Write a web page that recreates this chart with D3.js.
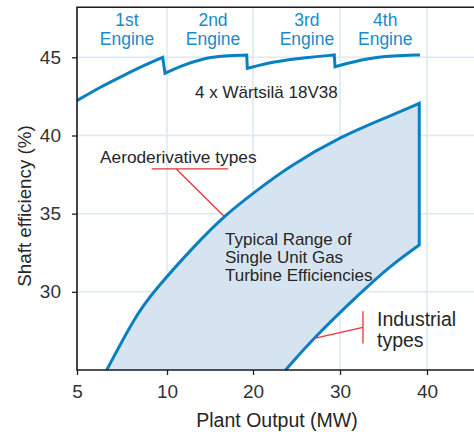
<!DOCTYPE html>
<meta charset="utf-8">
<style>
    body {
        margin: 0;
    }

    svg {
        font-family: "Liberation Sans", Arial, sans-serif;
    }

    .axis text {
        font-size: 19px;
        fill: #333;
    }

    .axis line {
        stroke: #222;
        stroke-width: 1.3;
    }

    .grid line {
        stroke: #dce8f4;
        stroke-width: 1.5;
    }

    .note {
        fill: #262626;
    }

    .lead {
        stroke: #e8343c;
        stroke-width: 1.3;
        fill: none;
    }
</style>
<body>
<script src="https://cdn.jsdelivr.net/npm/d3@7"></script>
<script>
    // ticks
    const xTicks = [5, 10, 20, 30, 40];
    const yTicks = [30, 35, 40, 45];

    // Wärtsilä engine steps, [MW, %]
    const engine1 = [[5, 42.23], [6.26, 43.08], [7.65, 43.88], [8.76, 44.5], [9.76, 45.0]];
    const engine2 = [[9.89, 43.98], [11.51, 44.42], [14.19, 44.94], [16.74, 45.1], [19.27, 45.14]];
    const engine3 = [[19.34, 44.29], [22.33, 44.72], [26.17, 45.0], [29.34, 45.15]];
    const engine4 = [[29.43, 44.4], [33.07, 44.94], [36.1, 45.1], [39.2, 45.15]];
    const engineLabels = ["1st", "2nd", "3rd", "4th"];
    const engineLabelX = [7.78, 15.35, 26.2, 35.2];

    // gas turbine range
    const aeroderivative = [[6.65, 25], [8.22, 28.41], [9.24, 30.01], [13.26, 33.0], [16.86, 34.96],
        [20.23, 36.4], [24.06, 38.0], [30, 39.92], [35.55, 41.2], [39.11, 42.06]];
    const industrial = [[23.74, 25], [26.93, 27.03], [32.49, 30.01], [35.75, 31.65], [39.11, 33.0]];

    const width = 474, height = 441;
    const plotLeft = 77, plotTop = 7.3, plotBottom = 370;

    const svg = d3.select("body").append("svg")
        .attr("width", width)
        .attr("height", height);

    // ticks are evenly spaced although 5 -> 10 is a half step
    const x = d3.scaleLinear()
        .domain([5, 10, 20, 30, 40, 50])
        .range([77, 167, 253, 340, 427, 514]);

    const y = d3.scaleLinear()
        .domain([25, 48.2])
        .range([plotBottom, plotTop]);

    // grid
    const grid = svg.append("g").attr("class", "grid");
    grid.selectAll(".v")
        .data(xTicks.slice(1))
        .enter().append("line")
        .attr("x1", d => x(d)).attr("x2", d => x(d))
        .attr("y1", plotTop).attr("y2", plotBottom);
    grid.selectAll(".h")
        .data(yTicks)
        .enter().append("line")
        .attr("x1", plotLeft).attr("x2", width)
        .attr("y1", d => y(d)).attr("y2", d => y(d));

    const line = d3.line()
        .x(d => x(d[0]))
        .y(d => y(d[1]))
        .curve(d3.curveBasis);

    // band
    const industrialRev = industrial.slice().reverse();
    const bandOutline = line(aeroderivative) + "L" + line(industrialRev).slice(1);

    svg.append("path")
        .attr("d", bandOutline + "Z")
        .style("fill", "#d6e4f1")
        .style("stroke", "none");

    svg.append("path")
        .attr("d", bandOutline)
        .style("fill", "none")
        .style("stroke", "#0a80c2")
        .style("stroke-width", 3);

    // engine curve, straight drops between segments
    const engineD = [engine1, engine2, engine3, engine4]
        .map((s, i) => i === 0 ? line(s) : "L" + line(s).slice(1))
        .join("");

    svg.append("path")
        .attr("d", engineD)
        .style("fill", "none")
        .style("stroke", "#0a80c2")
        .style("stroke-width", 3);

    // axes
    const xAxis = d3.axisBottom(x).tickValues(xTicks).tickSize(5).tickPadding(10);
    const yAxis = d3.axisLeft(y).tickValues(yTicks).tickSize(5).tickPadding(11);

    svg.append("g")
        .attr("class", "x axis")
        .attr("transform", "translate(0," + plotBottom + ")")
        .call(xAxis)
        .call(g => g.select(".domain").remove());

    svg.append("g")
        .attr("class", "y axis")
        .attr("transform", "translate(" + plotLeft + ",0)")
        .call(yAxis)
        .call(g => g.select(".domain").remove());

    // frame
    svg.append("path")
        .attr("d", "M" + width + "," + plotTop + "H" + plotLeft + "V" + plotBottom + "H" + width)
        .style("fill", "none")
        .style("stroke", "#1a1a1a")
        .style("stroke-width", 1.6);

    svg.append("text")
        .attr("x", 277)
        .attr("y", 427)
        .attr("text-anchor", "middle")
        .style("font-size", "19.5px")
        .style("fill", "#262626")
        .text("Plant Output (MW)");

    svg.append("text")
        .attr("transform", "translate(31,206) rotate(-90)")
        .attr("text-anchor", "middle")
        .style("font-size", "18.8px")
        .style("fill", "#262626")
        .text("Shaft efficiency (%)");

    // engine labels
    const el = svg.selectAll(".engine")
        .data(engineLabels)
        .enter().append("text")
        .attr("class", "engine")
        .attr("text-anchor", "middle")
        .style("font-size", "17.5px")
        .style("fill", "#1a8ac9");
    el.append("tspan")
        .attr("x", (d, i) => x(engineLabelX[i]))
        .attr("y", y(47.0))
        .text(d => d);
    el.append("tspan")
        .attr("x", (d, i) => x(engineLabelX[i]))
        .attr("y", y(45.79))
        .text("Engine");

    svg.append("text")
        .attr("class", "note")
        .attr("x", 195)
        .attr("y", 98)
        .style("font-size", "17px")
        .text("4 x Wärtsilä 18V38");

    svg.append("text")
        .attr("class", "note")
        .attr("x", 100)
        .attr("y", 162.5)
        .style("font-size", "17.3px")
        .text("Aeroderivative types");

    const typical = svg.append("text")
        .attr("class", "note")
        .style("font-size", "17px");
    ["Typical Range of", "Single Unit Gas", "Turbine Efficiencies"].forEach((t, i) => {
        typical.append("tspan")
            .attr("x", 225)
            .attr("y", 245 + i * 18.2)
            .text(t);
    });

    const indus = svg.append("text")
        .attr("class", "note")
        .style("font-size", "19.5px");
    ["Industrial", "types"].forEach((t, i) => {
        indus.append("tspan")
            .attr("x", 377)
            .attr("y", 326 + i * 20.5)
            .text(t);
    });

    // leader lines, in data units
    svg.append("path")
        .attr("class", "lead")
        .attr("d", "M" + x(9.15) + "," + y(37.87) + "H" + x(17.13)
            + "M" + x(11.05) + "," + y(37.87) + "L" + x(16.6) + "," + y(34.85));

    svg.append("path")
        .attr("class", "lead")
        .attr("d", "M" + x(32.64) + "," + y(28.75) + "V" + y(26.7)
            + "M" + x(32.64) + "," + y(27.72) + "L" + x(27.05) + "," + y(27.03));
</script>
</body>
</html>
